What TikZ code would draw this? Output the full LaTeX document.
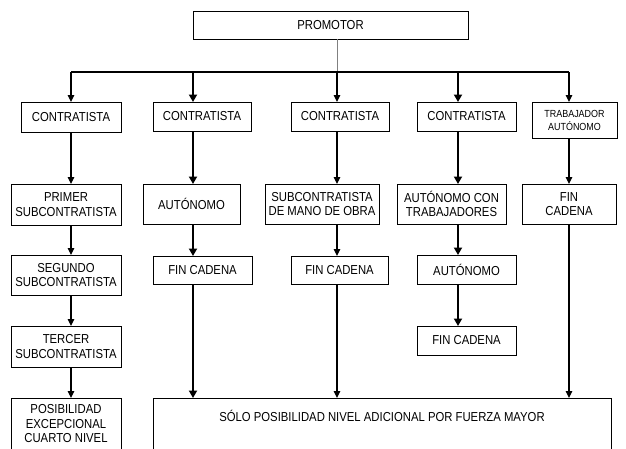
\documentclass[tikz,border=0pt]{standalone}
\usepackage{fontspec}
\setmainfont{Liberation Sans}[FakeStretch=0.87]
\usetikzlibrary{arrows.meta,positioning,calc}

\begin{document}
\begin{tikzpicture}[
    x=1pt, y=-1pt,
    box/.style={draw, line width=0.8pt, align=center, inner sep=0pt, outer sep=0pt,
        anchor=north west, font=\fontsize{13}{14.5}\selectfont},
    smallbox/.style={box, font=\fontsize{10.3}{13}\selectfont},
    lightarrow/.style={line width=1.2pt, -{Triangle[length=7pt,width=6.5pt]}},
    heavyarrow/.style={line width=2.8pt, -{Triangle[length=7.5pt,width=8pt]}}
]
\useasboundingbox (0,0) rectangle (626,448);
\clip (0,0) rectangle (626,448);

% Top node
\node[box, minimum width=275, minimum height=28] (promotor) at (193,11) {PROMOTOR};

% Column positions on the bus
\coordinate (x1) at (71,72);
\coordinate (x2) at (193,72);
\coordinate (x3) at (337,72);
\coordinate (x4) at (458,72);
\coordinate (x5) at (569,72);

% First level
\node[box, minimum width=100, minimum height=30] (c1a) at (21,102) {CONTRATISTA};
\node[box, minimum width=98, minimum height=29] (c2a) at (153,102) {CONTRATISTA};
\node[box, minimum width=98, minimum height=29] (c3a) at (291,102) {CONTRATISTA};
\node[box, minimum width=99, minimum height=29] (c4a) at (417,102) {CONTRATISTA};
\node[smallbox, minimum width=85, minimum height=36] (c5a) at (532,102) {TRABAJADOR\\AUTÓNOMO};

% Second level
\node[box, minimum width=110, minimum height=41] (c1b) at (11,184) {PRIMER\\SUBCONTRATISTA};
\node[box, minimum width=97, minimum height=40] (c2b) at (143,184) {AUTÓNOMO};
\node[box, minimum width=114, minimum height=40] (c3b) at (265,184) {SUBCONTRATISTA\\DE MANO DE OBRA};
\node[box, minimum width=109, minimum height=40] (c4b) at (397,184) {AUTÓNOMO CON\\TRABAJADORES};
\node[box, minimum width=94, minimum height=40] (c5b) at (522,184) {FIN\\CADENA};

% Third level
\node[box, minimum width=110, minimum height=40] (c1c) at (11,255) {SEGUNDO\\SUBCONTRATISTA};
\node[box, minimum width=99, minimum height=28] (c2c) at (153,256) {FIN CADENA};
\node[box, minimum width=97, minimum height=28] (c3c) at (291,256) {FIN CADENA};
\node[box, minimum width=99, minimum height=29] (c4c) at (417,255) {AUTÓNOMO};

% Fourth level
\node[box, minimum width=110, minimum height=41] (c1d) at (11,326) {TERCER\\SUBCONTRATISTA};
\node[box, minimum width=99, minimum height=29] (c4d) at (417,326) {FIN CADENA};

% Bottom level
\node[box, minimum width=110, minimum height=52] (c1e) at (11,398) {POSIBILIDAD\\EXCEPCIONAL\\CUARTO NIVEL};
\node[box, minimum width=458, minimum height=60, text height=9pt, text depth=22pt] (fuerza) at (153,398)
    {SÓLO POSIBILIDAD NIVEL ADICIONAL POR FUERZA MAYOR};

% Promotor to bus
\draw[gray, line width=0.8pt] (promotor.south -| x3) -- (x3);
\draw[line width=1.1pt] (x1) -- (x5);

% Bus to first level
\draw[lightarrow] (x1) -- (c1a.north -| x1);
\draw[heavyarrow] (x2) -- (c2a.north -| x2);
\draw[lightarrow] (x3) -- (c3a.north -| x3);
\draw[heavyarrow] (x4) -- (c4a.north -| x4);
\draw[lightarrow] (x5) -- (c5a.north -| x5);

% Chain of subcontractors
\draw[lightarrow] (c1a.south -| x1) -- (c1b.north -| x1);
\draw[lightarrow] (c1b.south -| x1) -- (c1c.north -| x1);
\draw[lightarrow] (c1c.south -| x1) -- (c1d.north -| x1);
\draw[lightarrow] (c1d.south -| x1) -- (c1e.north -| x1);

% Self-employed chain
\draw[heavyarrow] (c2a.south -| x2) -- (c2b.north -| x2);
\draw[heavyarrow] (c2b.south -| x2) -- (c2c.north -| x2);
\draw[heavyarrow] (c2c.south -| x2) -- (fuerza.north -| x2);

% Labour-only subcontractor chain
\draw[lightarrow] (c3a.south -| x3) -- (c3b.north -| x3);
\draw[lightarrow] (c3b.south -| x3) -- (c3c.north -| x3);
\draw[lightarrow] (c3c.south -| x3) -- (fuerza.north -| x3);

% Self-employed with workers chain
\draw[heavyarrow] (c4a.south -| x4) -- (c4b.north -| x4);
\draw[heavyarrow] (c4b.south -| x4) -- (c4c.north -| x4);
\draw[heavyarrow] (c4c.south -| x4) -- (c4d.north -| x4);

% Self-employed worker
\draw[lightarrow] (c5a.south -| x5) -- (c5b.north -| x5);
\draw[lightarrow] (c5b.south -| x5) -- (fuerza.north -| x5);
\end{tikzpicture}
\end{document}
